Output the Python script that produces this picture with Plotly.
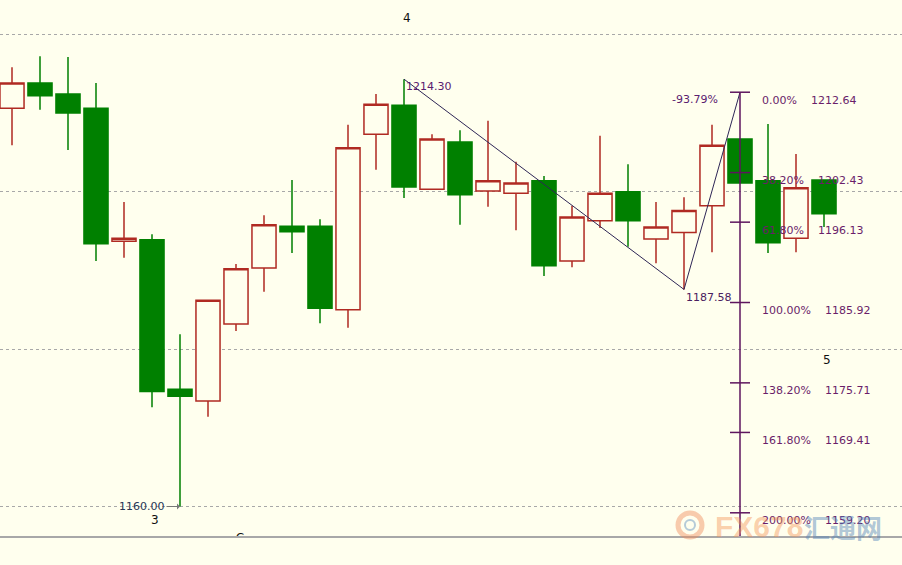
import plotly.graph_objects as go

# ---------------- data ----------------
bar_index = list(range(30))
opens  = [1210.6, 1213.8, 1212.4, 1210.6, 1193.7, 1193.9, 1174.9, 1173.4, 1183.2, 1190.3,
          1195.6, 1195.6, 1185.0, 1207.3, 1211.0, 1200.3, 1206.3, 1200.1, 1199.8, 1201.4,
          1191.2, 1196.3, 1200.0, 1194.0, 1194.8, 1198.2, 1206.7, 1201.4, 1194.1, 1201.5]
highs  = [1215.8, 1217.2, 1217.1, 1213.8, 1198.7, 1194.6, 1181.9, 1186.3, 1190.8, 1197.0,
          1201.5, 1196.5, 1208.5, 1212.4, 1214.30, 1207.3, 1207.8, 1209.0, 1203.8, 1202.0,
          1198.2, 1207.1, 1203.5, 1198.7, 1199.3, 1208.5, 1206.7, 1208.6, 1204.8, 1201.5]
lows   = [1205.9, 1210.4, 1205.3, 1191.2, 1191.6, 1172.6, 1160.00, 1171.4, 1182.3, 1187.3,
          1192.2, 1183.3, 1182.7, 1202.8, 1199.2, 1200.3, 1195.8, 1198.1, 1195.1, 1189.3,
          1190.4, 1195.4, 1193.0, 1190.9, 1187.58, 1192.3, 1201.1, 1192.2, 1192.3, 1195.5]
closes = [1213.8, 1212.2, 1210.0, 1193.4, 1194.1, 1174.6, 1174.0, 1186.2, 1190.2, 1195.8,
          1194.9, 1185.2, 1205.6, 1211.1, 1200.6, 1206.7, 1199.6, 1201.4, 1201.1, 1190.6,
          1196.8, 1199.8, 1196.3, 1195.5, 1197.6, 1205.9, 1201.1, 1193.5, 1200.5, 1197.2]

zigzag_x = [14, 24, 26]
zigzag_y = [1214.30, 1187.58, 1212.64]
zigzag_label = "-93.79%"

fib_x = 26
fib_pct = ["0.00%", "38.20%", "61.80%", "100.00%", "138.20%", "161.80%", "200.00%"]
fib_vals = [1212.64, 1202.43, 1196.13, 1185.92, 1175.71, 1169.41, 1159.20]

wave_labels = ["4", "3", "5", "C"]

# ---------------- geometry helpers (pixel -> data) ----------------
W, H = 902, 565
PLOT_H = 536
X0_PX, X_STEP = 12.0, 28.0
Y_REF_PX, Y_REF, Y_SCALE = 506.5, 1160.0, 7.87

def px2x(px):
    return (px - X0_PX) / X_STEP

def px2y(py):
    return Y_REF + (Y_REF_PX - py) / Y_SCALE

def px2paper(px, py):
    return px / W, (PLOT_H - py) / PLOT_H

x_range = [px2x(0), px2x(W)]
y_range = [px2y(PLOT_H), px2y(0)]

BG = "#ffffee"
RED = "#b02a22"
GREEN = "#008000"
FIB = "#5e155e"
LBL = "#6a1e6a"
FONT = "DejaVu Sans"

fig = go.Figure()

fig.add_trace(go.Candlestick(
    x=bar_index, open=opens, high=highs, low=lows, close=closes,
    increasing=dict(line=dict(color=RED, width=1.5), fillcolor=BG),
    decreasing=dict(line=dict(color=GREEN, width=1.5), fillcolor=GREEN),
    whiskerwidth=0, hoverinfo="skip", showlegend=False,
))

# zigzag
fig.add_trace(go.Scatter(x=zigzag_x, y=zigzag_y, mode="lines",
                         line=dict(color="#2e2656", width=1), hoverinfo="skip",
                         showlegend=False))

# fib vertical line + ticks
half = px2x(750) - px2x(740)
tx, ty = [fib_x, fib_x], [fib_vals[0], y_range[0]]
for v in fib_vals:
    tx += [None, fib_x - half, fib_x + half]
    ty += [None, v, v]
fig.add_trace(go.Scatter(x=tx, y=ty, mode="lines", line=dict(color=FIB, width=1.5),
                         hoverinfo="skip", showlegend=False))

# wave label "C" clipped by the plot area
fig.add_trace(go.Scatter(x=[px2x(240)], y=[px2y(539)], mode="text", text=[wave_labels[3]],
                         textfont=dict(family=FONT, size=12, color="#111111"),
                         cliponaxis=True, hoverinfo="skip", showlegend=False))

ann = []
# fib labels
for p, v in zip(fib_pct, fib_vals):
    ann.append(dict(x=px2x(760), y=v, xref="x", yref="y", xanchor="left", yanchor="middle",
                    yshift=-8, showarrow=False,
                    text=p + "&nbsp;" * 4 + f"{v:.2f}",
                    font=dict(family=FONT, size=11, color=LBL)))
# zigzag labels
ann.append(dict(x=zigzag_x[0], y=px2y(86), xanchor="left", yanchor="middle", showarrow=False,
                text=f"{zigzag_y[0]:.2f}", font=dict(family=FONT, size=11, color="#5a2070")))
ann.append(dict(x=zigzag_x[1], y=px2y(297), xanchor="left", yanchor="middle", showarrow=False,
                text=f"{zigzag_y[1]:.2f}", font=dict(family=FONT, size=11, color="#4a2060")))
ann.append(dict(x=px2x(720), y=px2y(99), xanchor="right", yanchor="middle", showarrow=False,
                text=zigzag_label, font=dict(family=FONT, size=11, color="#5a2070")))
# low marker
ann.append(dict(x=6, y=min(lows), xref="x", yref="y", showarrow=True, ax=-38, ay=0,
                arrowhead=1, arrowsize=1, arrowwidth=1, arrowcolor="#777777", standoff=0,
                text=f"{min(lows):.2f}", font=dict(family=FONT, size=11, color="#283656")))
# wave labels
for t, (px, py) in zip(wave_labels[:3], [(407, 18), (155, 520), (827, 360)]):
    ann.append(dict(x=px2x(px), y=px2y(py), xanchor="center", yanchor="middle",
                    showarrow=False, text=t, font=dict(family=FONT, size=12, color="#111111")))
# watermark
wx, wy = px2paper(759, 526)
ann.append(dict(x=wx, y=wy, xref="paper", yref="paper", xanchor="center", yanchor="middle",
                showarrow=False, text="<b>FX678</b>",
                font=dict(family="Liberation Sans Narrow, Liberation Sans", size=30,
                          color="rgba(244,150,90,0.45)")))
wx, wy = px2paper(843, 526)
ann.append(dict(x=wx, y=wy, xref="paper", yref="paper", xanchor="center", yanchor="middle",
                showarrow=False, text="<b>汇通网</b>",
                font=dict(family="Noto Sans CJK SC", size=26, color="rgba(80,130,185,0.45)")))

cx0, cy0 = px2paper(678, 537)
cx1, cy1 = px2paper(702, 513)
ix0, iy0 = px2paper(685, 530)
ix1, iy1 = px2paper(695, 520)
shapes = [
    dict(type="circle", xref="paper", yref="paper", x0=cx0, x1=cx1, y0=cy0, y1=cy1,
         line=dict(color="rgba(240,140,90,0.45)", width=5), layer="above"),
    dict(type="circle", xref="paper", yref="paper", x0=ix0, x1=ix1, y0=iy0, y1=iy1,
         line=dict(color="rgba(90,140,190,0.45)", width=2), layer="above"),
]

fig.update_layout(
    width=W, height=H,
    margin=dict(l=0, r=0, t=0, b=H - PLOT_H, pad=0),
    paper_bgcolor=BG, plot_bgcolor=BG,
    showlegend=False, hovermode=False,
    boxgap=0.14, boxgroupgap=0,
    annotations=ann, shapes=shapes,
    xaxis=dict(range=x_range, showgrid=False, zeroline=False, showticklabels=False,
               ticks="", showline=True, linecolor="#a8a8a8", linewidth=1.5,
               rangeslider=dict(visible=False), fixedrange=True),
    yaxis=dict(range=y_range, tickvals=[1160, 1180, 1200, 1220], showgrid=True,
               gridcolor="#a8a8a8", griddash="dot", gridwidth=1, zeroline=False,
               showticklabels=False, ticks="", showline=False, fixedrange=True),
)

fig.write_html("out.html", config={"displayModeBar": False},
               post_script="document.body.style.margin='0';document.body.style.background='%s';" % BG)
